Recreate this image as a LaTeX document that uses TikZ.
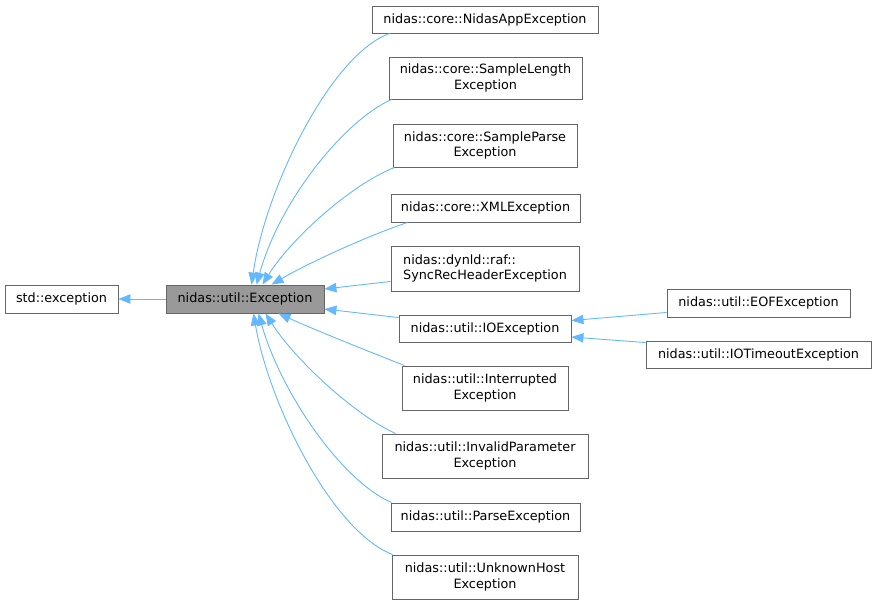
\documentclass[tikz,border=0pt]{standalone}
\usepackage{fontspec}
\setmainfont{DejaVu Sans}
\usetikzlibrary{arrows.meta,calc}
\definecolor{edgeblue}{HTML}{63B8FF}
\definecolor{boxline}{HTML}{666666}
\definecolor{boxfill}{HTML}{999999}
\tikzset{
  cls/.style={draw=boxline,line width=0.9pt,fill=white,inner sep=0pt,align=center,
    font=\fontsize{12.8}{15.5}\selectfont,text=black},
  clsleft/.style={cls,align=left},
  focus/.style={cls,fill=boxfill},
  edge/.style={draw=edgeblue,line width=0.9pt,-{Triangle[length=12pt,width=9.5pt,fill=edgeblue]}},
}
\begin{document}
\begin{tikzpicture}[x=1pt,y=-1pt]
\useasboundingbox (0,0) rectangle (877,606);
% nodes
\node[cls,minimum width=113pt,minimum height=28pt] (std) at (61.5,299) {std::exception};
\node[focus,minimum width=158pt,minimum height=28pt] (exc) at (245,299) {nidas::util::Exception};
\node[cls,minimum width=226pt,minimum height=27pt] (app) at (485,19.5) {nidas::core::NidasAppException};
\node[cls,minimum width=193pt,minimum height=42pt] (slen) at (485.5,78) {nidas::core::SampleLength\\Exception};
\node[cls,minimum width=184pt,minimum height=43pt] (sparse) at (485,145.5) {nidas::core::SampleParse\\Exception};
\node[cls,minimum width=189pt,minimum height=28pt] (xml) at (485.5,208) {nidas::core::XMLException};
\node[clsleft,minimum width=188pt,minimum height=45pt] (sync) at (485,268.5) {nidas::dynld::raf::\\SyncRecHeaderException};
\node[cls,minimum width=172pt,minimum height=27pt] (io) at (485,328.5) {nidas::util::IOException};
\node[cls,minimum width=166pt,minimum height=44pt] (intr) at (485,388) {nidas::util::Interrupted\\Exception};
\node[cls,minimum width=206pt,minimum height=44pt] (inval) at (485,456) {nidas::util::InvalidParameter\\Exception};
\node[cls,minimum width=189pt,minimum height=28pt] (parse) at (485.5,517) {nidas::util::ParseException};
\node[cls,minimum width=186pt,minimum height=44pt] (unk) at (485,577) {nidas::util::UnknownHost\\Exception};
\node[cls,minimum width=183pt,minimum height=28pt] (eof) at (758.5,303) {nidas::util::EOFException};
\node[cls,minimum width=225pt,minimum height=27pt] (iot) at (758.5,354.5) {nidas::util::IOTimeoutException};
% edges
\draw[edge] (exc.west) -- (std.east);
\draw[edge] ($(app.south west)+(18,0)$) .. controls (330,55) and (265,190) .. ($(exc.north west)+(86,0)$);
\draw[edge] ($(slen.south west)+(3,0)$) .. controls (345,120) and (280,200) .. ($(exc.north west)+(91,0)$);
\draw[edge] ($(sparse.south west)+(2,0)$) .. controls (350,185) and (290,240) .. ($(exc.north west)+(97,0)$);
\draw[edge] ($(xml.south west)+(17,0)$) .. controls (370,235) and (310,262) .. ($(exc.north west)+(106,0)$);
\draw[edge] ($(sync.south west)+(0,-10)$) -- ($(exc.east)+(0,-10)$);
\draw[edge] ($(io.north west)+(0,3)$) -- ($(exc.east)+(0,10)$);
\draw[edge] ($(intr.north west)+(3,0)$) .. controls (370,352) and (315,330) .. ($(exc.south west)+(113,0)$);
\draw[edge] ($(inval.north west)+(14,0)$) .. controls (355,415) and (295,360) .. ($(exc.south west)+(100,0)$);
\draw[edge] ($(parse.north west)+(1,0)$) .. controls (340,480) and (280,390) .. ($(exc.south west)+(93,0)$);
\draw[edge] ($(unk.north west)+(1,0)$) .. controls (330,530) and (268,400) .. ($(exc.south west)+(88,0)$);
\draw[edge] ($(eof.south west)+(0,-5)$) -- ($(io.east)+(0,-8)$);
\draw[edge] ($(iot.north west)+(0,2)$) -- ($(io.east)+(0,8.5)$);
\end{tikzpicture}
\end{document}
